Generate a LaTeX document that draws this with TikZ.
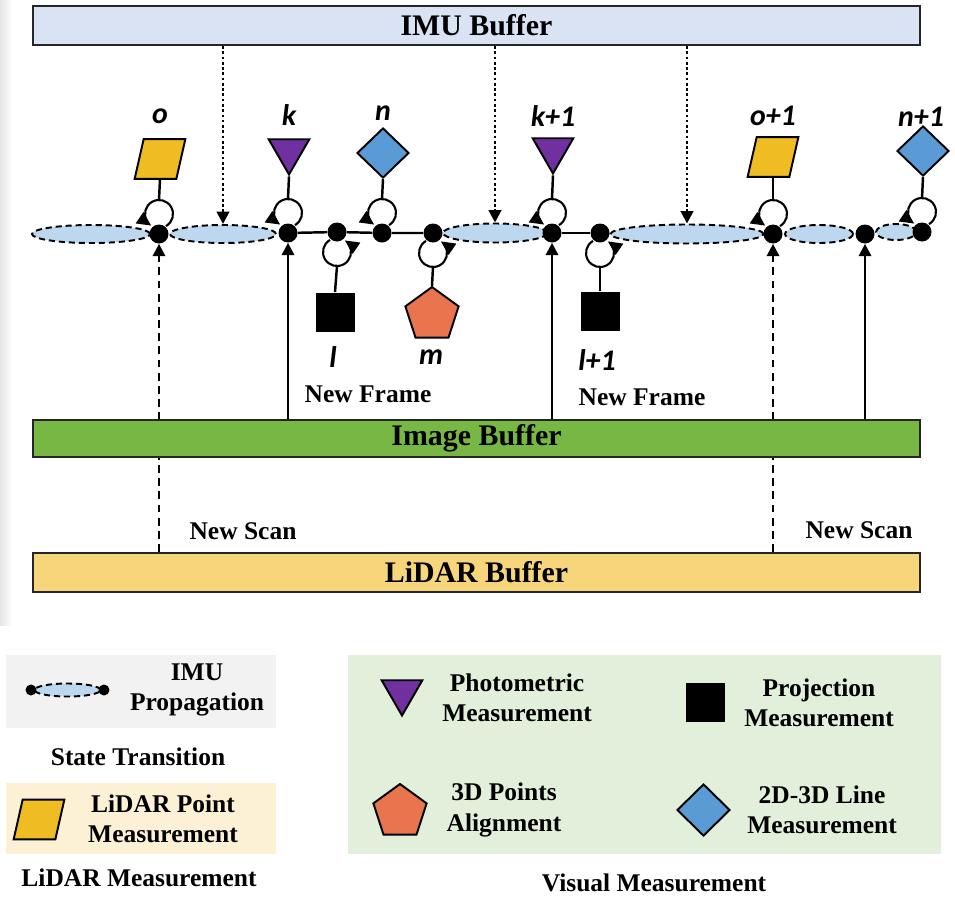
\documentclass[tikz,border=0pt]{standalone}
\usepackage{fontspec}
\setmainfont{Liberation Serif}
\newfontfamily\symlbl{Carlito}
\usetikzlibrary{shapes.geometric,arrows.meta,calc}
\def\pxu{0.02cm}
\definecolor{imublue}{HTML}{DAE3F3}
\definecolor{imggreen}{HTML}{76B843}
\definecolor{lidargold}{HTML}{F7D57B}
\definecolor{ellblue}{HTML}{BDD7EE}
\definecolor{parayellow}{HTML}{EFBC23}
\definecolor{tripurple}{HTML}{7030A0}
\definecolor{diablue}{HTML}{5B9BD5}
\definecolor{pentorange}{HTML}{E9744E}
\definecolor{leggray}{HTML}{F2F2F2}
\definecolor{legcream}{HTML}{FCF1D5}
\definecolor{leggreen}{HTML}{E2EFDA}
\tikzset{
  buffer/.style={draw=black!85,line width=1.2pt,minimum width=887*\pxu,inner sep=0pt,
    font=\fontsize{17}{20}\selectfont\bfseries},
  dot/.style={circle,fill=black,inner sep=0pt,minimum size=19*\pxu},
  smalldot/.style={circle,fill=black,inner sep=0pt,minimum size=11*\pxu},
  prop/.style={ellipse,draw=black,fill=ellblue,line width=1.1pt,inner sep=0pt,dash pattern=on 3.5pt off 2.2pt},
  conn/.style={line width=1.4pt},
  loopline/.style={line width=1.2pt,-{Triangle[length=8pt,width=7.5pt]}},
  dotarrow/.style={line width=1.5pt,dash pattern=on 1.5pt off 1.5pt,-{Triangle[length=7pt,width=7pt]}},
  dasharrow/.style={line width=1.4pt,dash pattern=on 4.5pt off 3pt,-{Triangle[length=7pt,width=7pt]}},
  solarrow/.style={line width=1.4pt,-{Triangle[length=7pt,width=7pt]}},
  parabox/.style={rectangle,inner sep=0pt,minimum width=50*\pxu,minimum height=39*\pxu},
  parafill/.style={draw=black,line width=1.1pt,fill=parayellow,line join=miter},
  tri/.style={regular polygon,regular polygon sides=3,shape border rotate=180,draw=black,line width=1.1pt,
    fill=tripurple,inner sep=0pt,minimum size=47*\pxu},
  dia/.style={diamond,draw=black,line width=1.1pt,fill=diablue,inner sep=0pt,minimum width=52*\pxu,minimum height=50*\pxu},
  sq/.style={rectangle,fill=black,inner sep=0pt,minimum size=39*\pxu},
  pent/.style={regular polygon,regular polygon sides=5,draw=black,line width=1.1pt,fill=pentorange,inner sep=0pt,minimum size=56*\pxu},
  lbl/.style={inner sep=0pt,font=\symlbl\bfseries\itshape\fontsize{17}{20}\selectfont},
  txt/.style={inner sep=0pt,align=center,font=\fontsize{14.5}{17.4}\selectfont\bfseries},
}
\newcommand{\TopLoop}[1]{\draw[loopline] ($(#1)+(7,7.9)$) arc[start angle=-60,end angle=236,radius=14*\pxu];
  \coordinate (#1top) at ($(#1)+(0,34)$);}
\newcommand{\BotLoop}[1]{\draw[loopline] ($(#1)+(-7,-7.9)$) arc[start angle=120,end angle=416,radius=14*\pxu];
  \coordinate (#1bot) at ($(#1)+(0,-34)$);}
\newcommand{\Para}[2]{\node[parabox] (#1) at (#2) {};
  \draw[parafill] (#1.south west) -- ($(#1.south east)+(-9,0)$) -- (#1.north east) -- ($(#1.north west)+(9,0)$) -- cycle;}
\begin{document}
\begin{tikzpicture}[x=0.02cm,y=0.02cm]
\useasboundingbox (0,0) rectangle (955,-906);
\shade[left color=black!10,right color=white] (0,0) rectangle (12,-625);

% buffers
\node[buffer,fill=imublue,minimum height=39*\pxu] (imu) at (476.5,-25.5) {IMU Buffer};
\node[buffer,fill=lidargold,minimum height=39*\pxu] (lidar) at (476.5,-572.5) {LiDAR Buffer};

% propagation ellipses
\node[prop,minimum width=118*\pxu,minimum height=18*\pxu] (e0) at (91,-234) {};
\node[prop,minimum width=106*\pxu,minimum height=18*\pxu] (e1) at (223,-234) {};
\node[prop,minimum width=104*\pxu,minimum height=19*\pxu] (e2) at (495,-233) {};
\node[prop,minimum width=153*\pxu,minimum height=19*\pxu] (e3) at (687,-234) {};
\node[prop,minimum width=68*\pxu,minimum height=18*\pxu] (e4) at (819,-234) {};
\node[prop,minimum width=40*\pxu,minimum height=16*\pxu] (e5) at (896,-232) {};

% state nodes
\node[dot] (A) at (159,-234) {};
\node[dot] (B) at (288,-233) {};
\node[dot] (C) at (337,-232) {};
\node[dot] (D) at (382,-233) {};
\node[dot] (E) at (433,-233) {};
\node[dot] (F) at (552,-233) {};
\node[dot] (G) at (600,-233) {};
\node[dot] (H) at (773,-234) {};
\node[dot] (I) at (865,-234) {};
\node[dot] (J) at (922,-232) {};

\draw[conn] (B) -- (C) -- (D) -- (E);
\draw[conn] (F) -- (G);

% loops
\TopLoop{A}\TopLoop{B}\TopLoop{D}\TopLoop{F}\TopLoop{H}\TopLoop{J}
\BotLoop{C}\BotLoop{E}\BotLoop{G}

% measurement symbols
\Para{pA}{160,-159}
\node[tri] (tB) at (289,-151) {};
\node[dia] (dD) at (383,-153) {};
\node[tri] (tF) at (553,-150) {};
\Para{pH}{773,-157}
\node[dia] (dJ) at (923,-151) {};
\node[sq] (sC) at (335,-312) {};
\node[pent] (pE) at (432,-315) {};
\node[sq] (sG) at (600,-311) {};

\draw[conn] (pA.south) -- (Atop);
\draw[conn] (tB.corner 1) -- (Btop);
\draw[conn] (dD.south) -- (Dtop);
\draw[conn] (tF.corner 1) -- (Ftop);
\draw[conn] (pH.south) -- (Htop);
\draw[conn] (dJ.south) -- (Jtop);
\draw[conn] (sC.north) -- (Cbot);
\draw[conn] (pE.corner 1) -- (Ebot);
\draw[conn] (sG.north) -- (Gbot);

% labels
\node[lbl] (lo) at (160,-116) {o};
\node[lbl] (lk) at (289,-115) {k};
\node[lbl] (ln) at (383,-113) {n};
\node[lbl] (lk1) at (553,-116) {k+1};
\node[lbl] (lo1) at (773,-116) {o+1};
\node[lbl] (ln1) at (921,-117) {n+1};
\node[lbl] (ll) at (333,-357) {l};
\node[lbl] (lm) at (431,-357) {m};
\node[lbl] (ll1) at (597,-360) {l+1};

% IMU arrows
\draw[dotarrow] (e1.north |- imu.south) -- (e1.north);
\draw[dotarrow] (e2.north |- imu.south) -- (e2.north);
\draw[dotarrow] (e3.north |- imu.south) -- (e3.north);

% LiDAR arrows (behind image buffer)
\draw[dasharrow] (A |- lidar.north) -- (A);
\draw[dasharrow] (H |- lidar.north) -- (H);

\node[buffer,fill=imggreen,minimum height=37*\pxu] (img) at (476.5,-438.5) {Image Buffer};

\draw[solarrow] (B |- img.north) -- (B);
\draw[solarrow] (F |- img.north) -- (F);
\draw[solarrow] (I |- img.north) -- (I);

\node[txt] (nf1) at (368,-394) {New Frame};
\node[txt] (nf2) at (642,-397) {New Frame};
\node[txt] (ns1) at (243,-531) {New Scan};
\node[txt] (ns2) at (859,-530) {New Scan};

% legend: state transition
\fill[leggray] (6,-655) rectangle (276,-728);
\node[prop,minimum width=66*\pxu,minimum height=13*\pxu] (le) at (67.5,-690) {};
\node[smalldot] (ld1) at (31,-690) {};
\node[smalldot] (ld2) at (104,-690) {};
\node[txt] (limu) at (197,-690) {IMU\\Propagation};
\node[txt] (lst) at (138,-757) {State Transition};

% legend: lidar
\fill[legcream] (6,-783) rectangle (276,-854);
\Para{lpara}{39,-819.5}
\node[txt] (llp) at (163,-819) {LiDAR Point\\Measurement};
\node[txt] (llm) at (139,-878) {LiDAR Measurement};

% legend: visual
\fill[leggreen] (348,-655) rectangle (941,-854);
\node[tri,minimum size=47*\pxu] (ltri) at (402,-692) {};
\node[txt] (lph) at (517,-698) {Photometric\\Measurement};
\node[sq] (lsq) at (705.5,-702.5) {};
\node[txt] (lpr) at (819,-703) {Projection\\Measurement};
\node[pent] (lpent) at (400,-812) {};
\node[txt] (l3d) at (504,-810) {3D Points\\Alignment};
\node[dia,minimum width=53*\pxu,minimum height=52*\pxu] (ldia) at (703.5,-810) {};
\node[txt] (l2d) at (822,-810) {2D-3D Line\\Measurement};
\node[txt] (lvm) at (654,-883) {Visual Measurement};
\end{tikzpicture}
\end{document}
